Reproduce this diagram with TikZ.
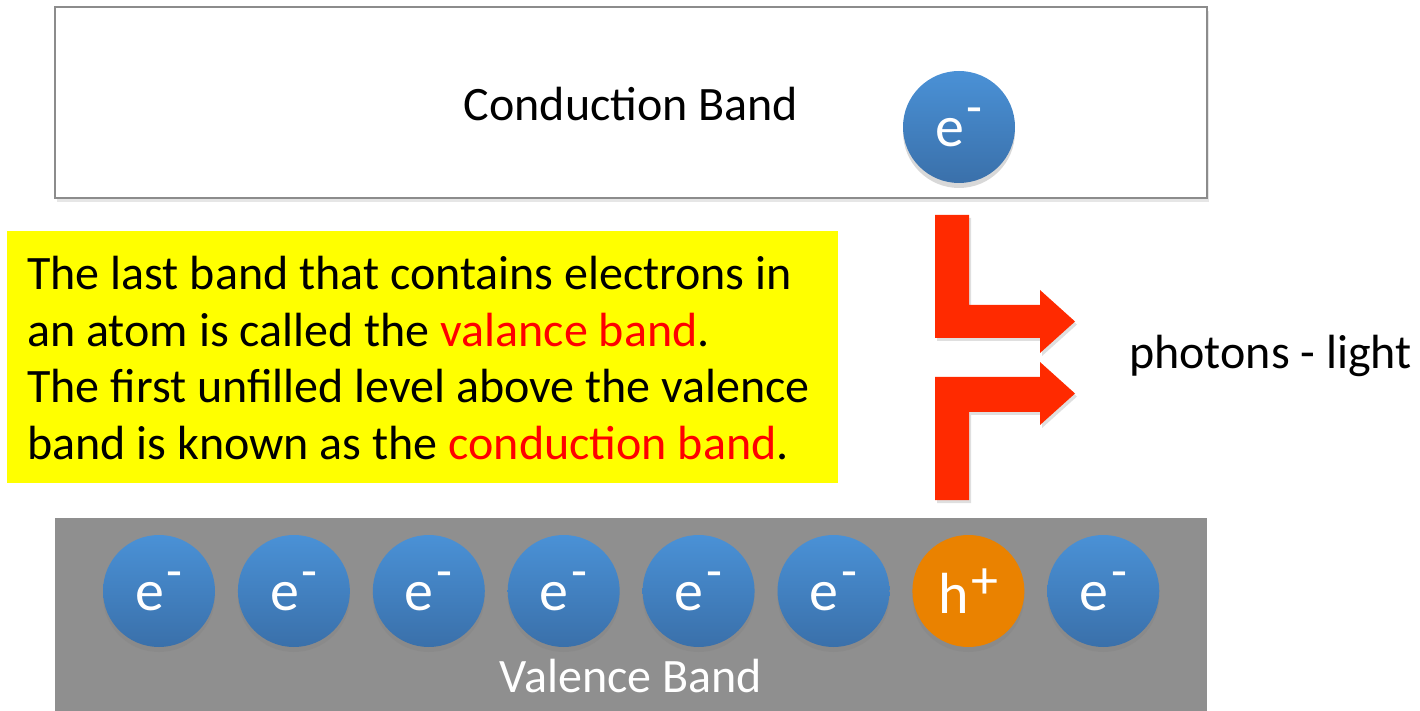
\documentclass[tikz,border=0pt]{standalone}
\usepackage{fontspec}
\setmainfont{Carlito}
\usetikzlibrary{shadows}
\definecolor{bandgray}{HTML}{8F8F8F}
\definecolor{boxline}{HTML}{8C8C8C}
\definecolor{eblueA}{HTML}{4A91D6}
\definecolor{eblueB}{HTML}{3A70AA}
\definecolor{horange}{HTML}{EA8200}
\definecolor{arrowred}{HTML}{FF2A00}
\definecolor{noteyellow}{HTML}{FFFF00}
\newcommand{\supminus}{\kern1.5pt\raisebox{11pt}{\fontsize{26}{26}\selectfont -}}
\newcommand{\supplus}{\kern1pt\raisebox{7.5pt}{\fontsize{27}{27}\selectfont +}}
\begin{document}
\begin{tikzpicture}[x=0.5pt,y=-0.5pt,
  particle/.style={circle, minimum size=56pt, inner sep=0pt, draw=none, text=white,
    font=\fontsize{29}{30}\selectfont,
    drop shadow={opacity=0.3, shadow xshift=0pt, shadow yshift=-2.5pt}},
  electron/.style={particle, top color=eblueA, bottom color=eblueB},
  hole/.style={particle, fill=horange},
  bigtext/.style={font=\fontsize{24}{28.25}\selectfont, inner sep=0pt},
  redarrow/.style={fill=arrowred, draw=none,
    drop shadow={opacity=0.25, shadow xshift=1pt, shadow yshift=-1.5pt}}
]
\useasboundingbox (0,0) rectangle (1420,711);

% conduction band
\fill[white, drop shadow={opacity=0.2, shadow xshift=1pt, shadow yshift=-2pt}] (55,7) rectangle (1207,198);
\draw[boxline, line width=1pt] (55,7) rectangle (1207,198);
\node[bigtext, anchor=base] (cbl) at (631,121) {Conduction Band};
\node[electron] (ctop) at (959,127) {e\supminus};

% valence band
\fill[bandgray] (55,518) rectangle (1207,711);
\node[bigtext, anchor=base, text=white] (vbl) at (631,692) {Valence Band};
\foreach \i/\n in {0/e1,1/e2,2/e3,3/e4,4/e5,5/e6,7/e8}{
  \node[electron] (\n) at ({159+134.9*\i},591) {e\supminus};
}
\node[hole] (h7) at ({159+134.9*6},591) {h\supplus};

% note
\fill[noteyellow] (7,231) rectangle (838,483);
\node[bigtext, anchor=north west, align=left] (note) at (27,256)
 {The last band that contains electrons in\\
  an atom is called the \textcolor{red}{valance band}.\\
  The first unfilled level above the valence\\
  band is known as the \textcolor{red}{conduction band}.};

% arrows
\path[redarrow] (935,215) -- (969,215) -- (969,305) -- (1040,305) -- (1040,290)
  -- (1075,321.5) -- (1040,353) -- (1040,338) -- (935,338) -- cycle;
\path[redarrow] (935,500) -- (969,500) -- (969,412) -- (1040,412) -- (1040,425)
  -- (1075,393.5) -- (1040,362) -- (1040,377) -- (935,377) -- cycle;

\node[bigtext, anchor=base] (ph) at (1270.5,369) {photons - light};
\end{tikzpicture}
\end{document}
